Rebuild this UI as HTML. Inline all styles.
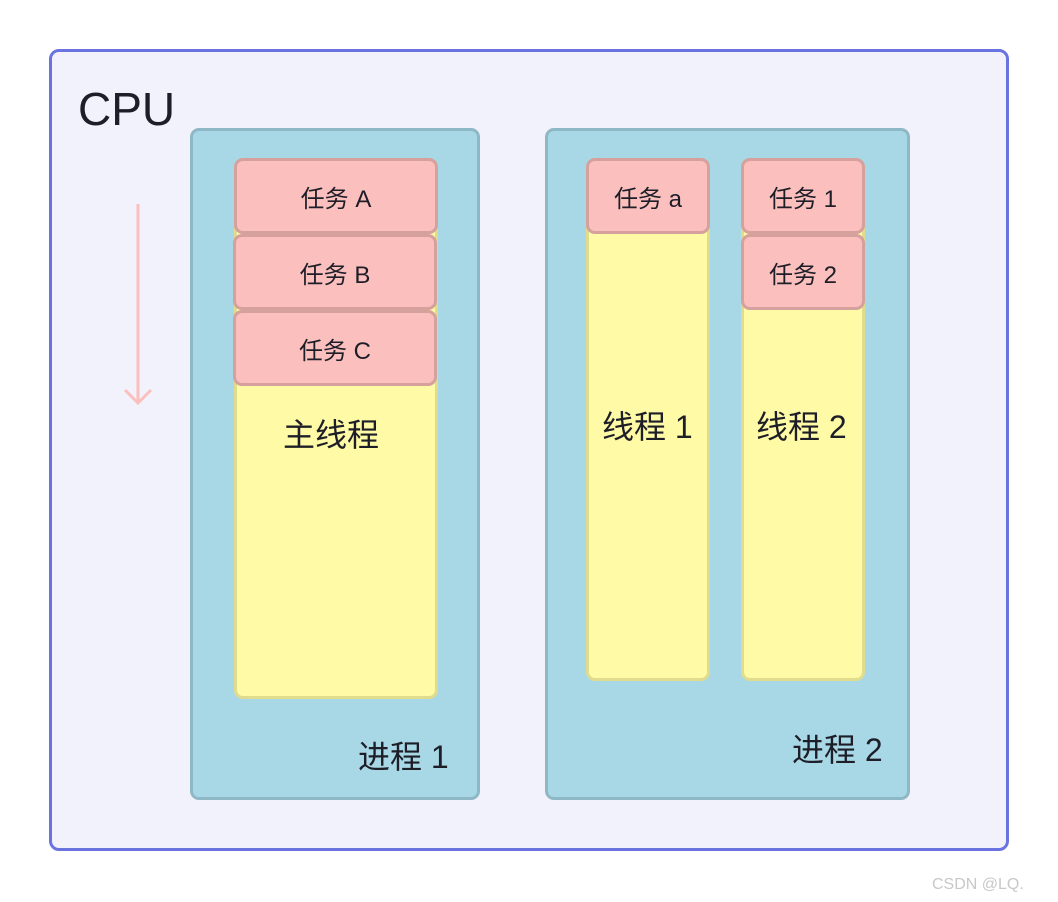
<!DOCTYPE html>
<html><head><meta charset="utf-8"><style>
body{margin:0;width:1058px;height:902px;background:#fff;position:relative;font-family:"Liberation Sans","Noto Sans CJK SC",sans-serif;color:#1e1e28;overflow:hidden}
div{position:absolute;box-sizing:border-box}
.cpu{left:49px;top:49px;width:960px;height:802px;background:#f2f2fc;border:3px solid #6b73e0;border-radius:10px}
.proc{background:#a8d8e6;border:3px solid #8fb8c6;border-radius:9px}
.th{background:#fffaa6;border:3px solid #e0dc8e;border-radius:9px}
.task{background:#fbbfbd;border:3px solid #d6a09c;border-radius:9px;display:flex;align-items:center;justify-content:center;font-size:24px}
.lbl{font-size:32px;white-space:nowrap}
</style></head><body>
<div class="cpu"></div>
<div class="lbl" style="left:78px;top:82px;font-size:46px">CPU</div>
<svg style="position:absolute;left:120px;top:200px" width="40" height="210"><line x1="18" y1="4" x2="18" y2="203" stroke="#fbbfbd" stroke-width="3"/><polyline points="5,190 18,203 31,190" fill="none" stroke="#fbbfbd" stroke-width="3"/></svg>
<div class="proc" style="left:190px;top:128px;width:290px;height:672px"></div>
<div class="th" style="left:234px;top:195px;width:204px;height:504px"></div>
<div class="task" style="left:234px;top:158px;width:204px;height:76px">任务 A</div>
<div class="task" style="left:233px;top:234px;width:204px;height:76px">任务 B</div>
<div class="task" style="left:233px;top:310px;width:204px;height:76px">任务 C</div>
<div class="lbl" style="left:283px;top:410px">主线程</div>
<div class="lbl" style="left:358px;top:732px">进程 1</div>
<div class="proc" style="left:545px;top:128px;width:365px;height:672px"></div>
<div class="th" style="left:586px;top:195px;width:124px;height:486px"></div>
<div class="task" style="left:586px;top:158px;width:124px;height:76px">任务 a</div>
<div class="th" style="left:741px;top:195px;width:124px;height:486px"></div>
<div class="task" style="left:741px;top:158px;width:124px;height:76px">任务 1</div>
<div class="task" style="left:741px;top:234px;width:124px;height:76px">任务 2</div>
<div class="lbl" style="left:602px;top:402px">线程 1</div>
<div class="lbl" style="left:756px;top:402px">线程 2</div>
<div class="lbl" style="left:792px;top:725px">进程 2</div>
<div style="left:932px;top:876px;font-size:16px;color:#c8c8c8">CSDN @LQ.</div>
</body></html>
